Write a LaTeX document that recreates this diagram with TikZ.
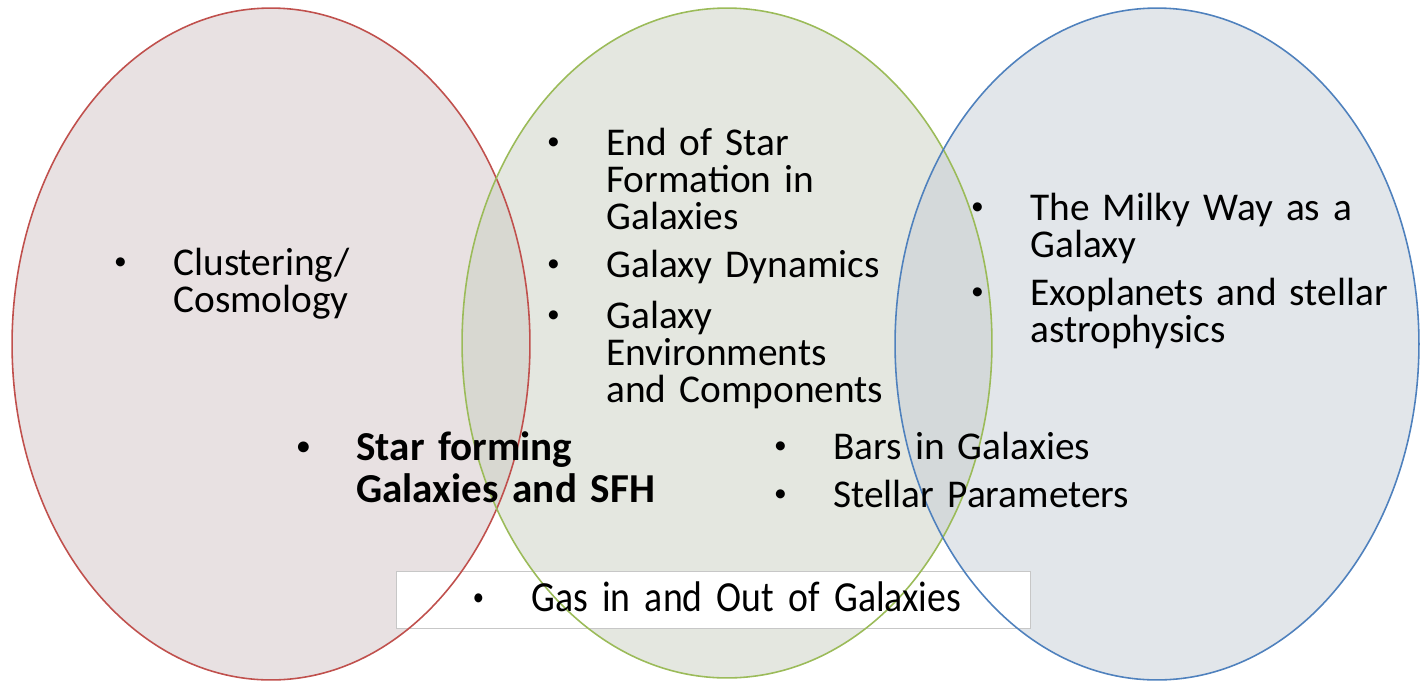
\documentclass[tikz,border=0pt]{standalone}
\usepackage{fontspec}
\setmainfont{Carlito}
\newfontfamily\gasfont{Carlito}[FakeStretch=0.88]
\usepackage{tikz}
\usetikzlibrary{positioning}

\definecolor{redline}{HTML}{C0504D}
\definecolor{greenline}{HTML}{9BBB59}
\definecolor{blueline}{HTML}{4F81BD}
\definecolor{redfill}{RGB}{209,196,197}
\definecolor{greenfill}{RGB}{201,207,193}
\definecolor{bluefill}{RGB}{197,205,213}

\newcommand{\bul}{\llap{\makebox[2.12cm]{\raisebox{3pt}{\fontsize{14.5}{14.5}\selectfont •}}}}

\begin{document}
\begin{tikzpicture}[x=0.02cm, y=-0.02cm,
    ring/.style={line width=0.9pt},
    item/.style={anchor=base west, inner sep=0pt, text width=12cm, align=left,
                 font=\fontsize{22.4}{21.3}\selectfont},
    bigitem/.style={item, font=\fontsize{23.4}{24.4}\selectfont\bfseries},
    gasitem/.style={item, font=\fontsize{24.4}{26}\selectfont\gasfont},
    gasbox/.style={draw=black!22, fill=white, minimum width=12.68cm,
                   minimum height=1.14cm, inner sep=0pt}]
    \useasboundingbox (0,0) rectangle (1420,684);

    % the three fields
    \fill[redfill, fill opacity=0.5] (271,344) ellipse [x radius=5.18cm, y radius=6.72cm];
    \fill[greenfill, fill opacity=0.5] (727,343) ellipse [x radius=5.3cm, y radius=6.7cm];
    \fill[bluefill, fill opacity=0.5] (1157,344) ellipse [x radius=5.24cm, y radius=6.72cm];

    \node[gasbox] (gasbox) at (713,599.5) {};

    \draw[ring, redline] (271,344) ellipse [x radius=5.18cm, y radius=6.72cm];
    \draw[ring, greenline] (727,343) ellipse [x radius=5.3cm, y radius=6.7cm];
    \draw[ring, blueline] (1157,344) ellipse [x radius=5.24cm, y radius=6.72cm];

    % topics
    \node[item] (clus) at (173,275) {\bul Clustering/\\Cosmology};
    \node[item] (endsf) at (606,155) {\bul End of Star\\Formation in\\Galaxies};
    \node[item] (dyn) at (606,277) {\bul Galaxy Dynamics};
    \node[item] (env) at (606,328) {\bul Galaxy\\Environments\\and Components};
    \node[item] (milky) at (1030,220) {\bul The Milky Way as a\\Galaxy};
    \node[item] (exo) at (1030,305) {\bul Exoplanets and stellar\\astrophysics};
    \node[bigitem] (sfg) at (356,460) {\bul Star forming\\Galaxies and SFH};
    \node[item] (bars) at (833,459) {\bul Bars in Galaxies};
    \node[item] (stel) at (833,507) {\bul Stellar Parameters};
    \node[gasitem] (gas) at (531,611) {\bul Gas in and Out of Galaxies};
\end{tikzpicture}
\end{document}
